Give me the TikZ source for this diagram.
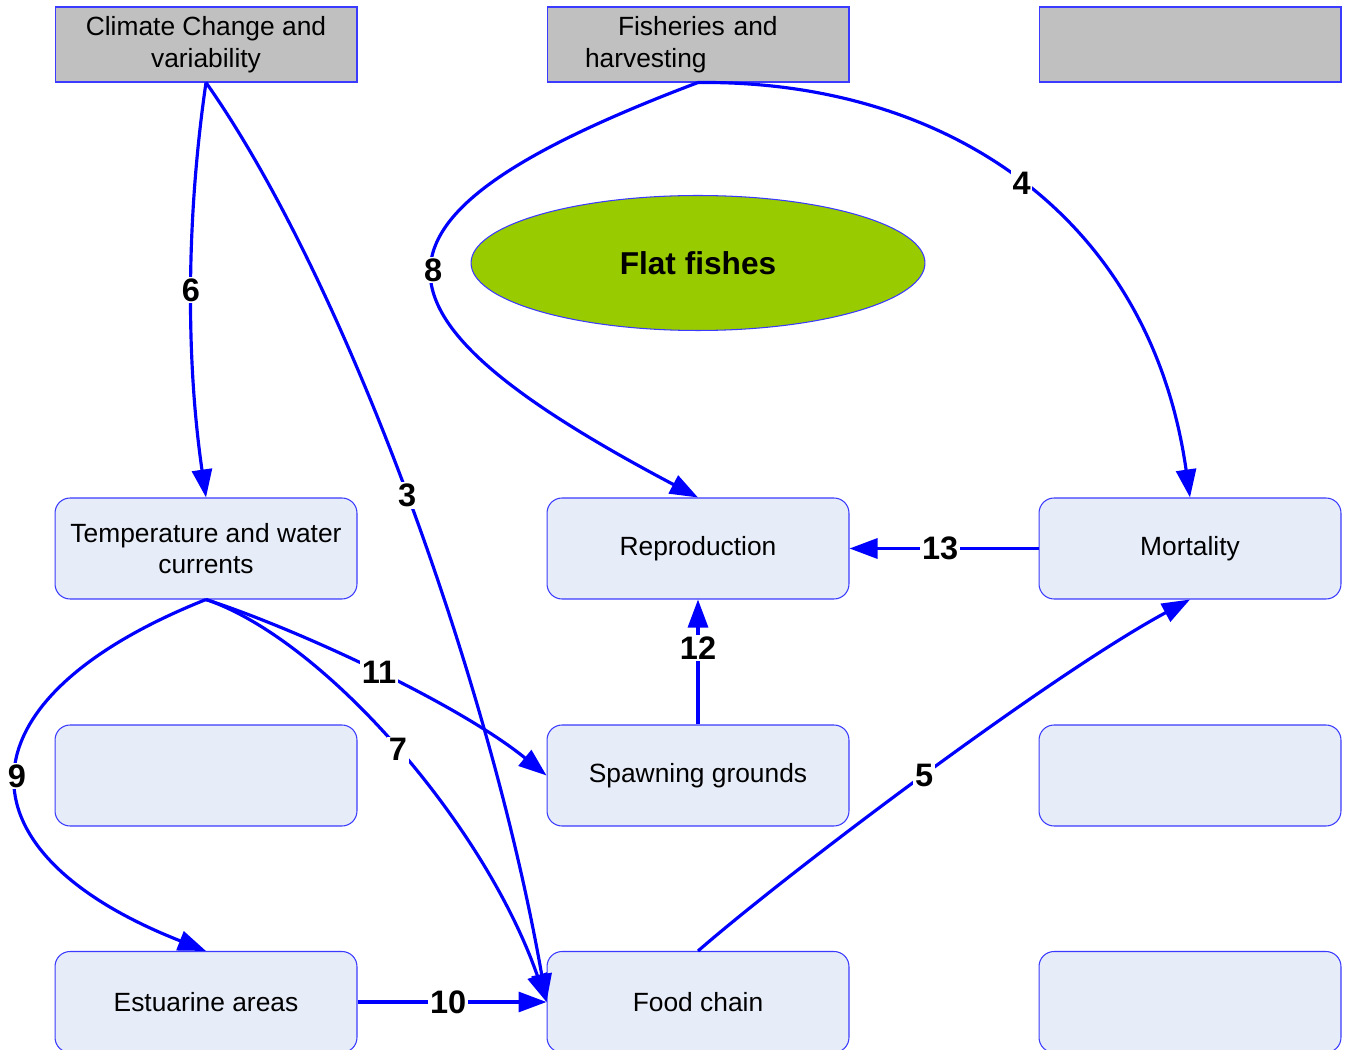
\documentclass[tikz,border=0pt]{standalone}
\usepackage{fontspec}
\setmainfont{Liberation Sans}
\usetikzlibrary{arrows.meta,shapes.geometric}
\definecolor{linkblue}{HTML}{0000FF}
\definecolor{edgeblue}{HTML}{3B3BFF}
\definecolor{boxfill}{HTML}{E6ECF8}
\definecolor{headfill}{HTML}{C0C0C0}
\definecolor{flatgreen}{HTML}{99CC00}

\begin{document}
\begin{tikzpicture}[x=0.02cm,y=-0.02cm,
  factor/.style={draw=edgeblue, line width=0.6pt, fill=headfill,
    minimum width=6.04cm, minimum height=1.5cm, inner sep=0pt,
    font=\fontsize{15}{18.1}\selectfont, align=center},
  process/.style={draw=edgeblue, line width=0.6pt, fill=boxfill,
    rounded corners=0.3cm, minimum width=6.04cm, minimum height=2.02cm,
    inner sep=0pt, font=\fontsize{15}{18.1}\selectfont, align=center},
  link/.style={draw=linkblue, line width=1.8pt,
    -{Triangle[length=0.56cm,width=0.4cm]}},
  num/.style={fill=white, inner sep=1pt,
    font=\fontsize{18.5}{18.5}\selectfont\bfseries, text=black}
]
\useasboundingbox (0,0) rectangle (1346,1050);

% driving factors
\node[factor] (climate) at (206,44.5) {Climate Change and\\variability};
\node[factor, align=left, text width=4.52cm, inner xsep=0.76cm] (fish) at (698,44.5)
  {\hspace*{0.66cm}Fisheries and\\harvesting};
\node[factor] (blankA) at (1190,44.5) {};

% central species
\node[ellipse, draw=edgeblue, line width=0.6pt, fill=flatgreen,
  minimum width=9.08cm, minimum height=2.7cm, inner sep=0pt,
  font=\fontsize{18}{20}\selectfont\bfseries] (flat) at (698,263) {Flat fishes};

% processes
\node[process] (temp)  at (206,548.5) {Temperature and water\\currents};
\node[process] (repro) at (698,548.5) {Reproduction};
\node[process] (mort)  at (1190,548.5) {Mortality};

\node[process] (blankB) at (206,775.5) {};
\node[process] (spawn)  at (698,775.5) {Spawning grounds};
\node[process] (blankC) at (1190,775.5) {};

\node[process] (estuary) at (206,1002) {Estuarine areas};
\node[process] (food)    at (698,1002) {Food chain};
\node[process] (blankD)  at (1190,1002) {};

% links
\draw[link] (climate.south) .. controls (186,220) and (186,360) .. node[num]{6} (temp.north);
\draw[link] (climate.south) .. controls (345,280) and (490,680) .. node[num]{3} (food.west);
\draw[link] (fish.south) .. controls (345,216) and (345,311) .. node[num]{8} (repro.north);
\draw[link] (fish.south) .. controls (945,80) and (1150,215) .. node[num]{4} (mort.north);
\draw[link] (mort.west) -- node[num,pos=0.52]{13} (repro.east);
\draw[link] (spawn.north) -- node[num,pos=0.61]{12} (repro.south);
\draw[link] (temp.south) .. controls (300,630) and (460,705) .. node[num]{11} (spawn.west);
\draw[link] (temp.south) .. controls (325,640) and (485,825) .. node[num]{7} (food.west);
\draw[link] (temp.south) .. controls (-46,700) and (-46,852) .. node[num]{9} (estuary.north);
\draw[link] (estuary.east) -- node[num,pos=0.48]{10} (food.west);
\draw[link] (food.north) .. controls (785,875) and (1050,675) .. node[num]{5} (mort.south);
\end{tikzpicture}
\end{document}
